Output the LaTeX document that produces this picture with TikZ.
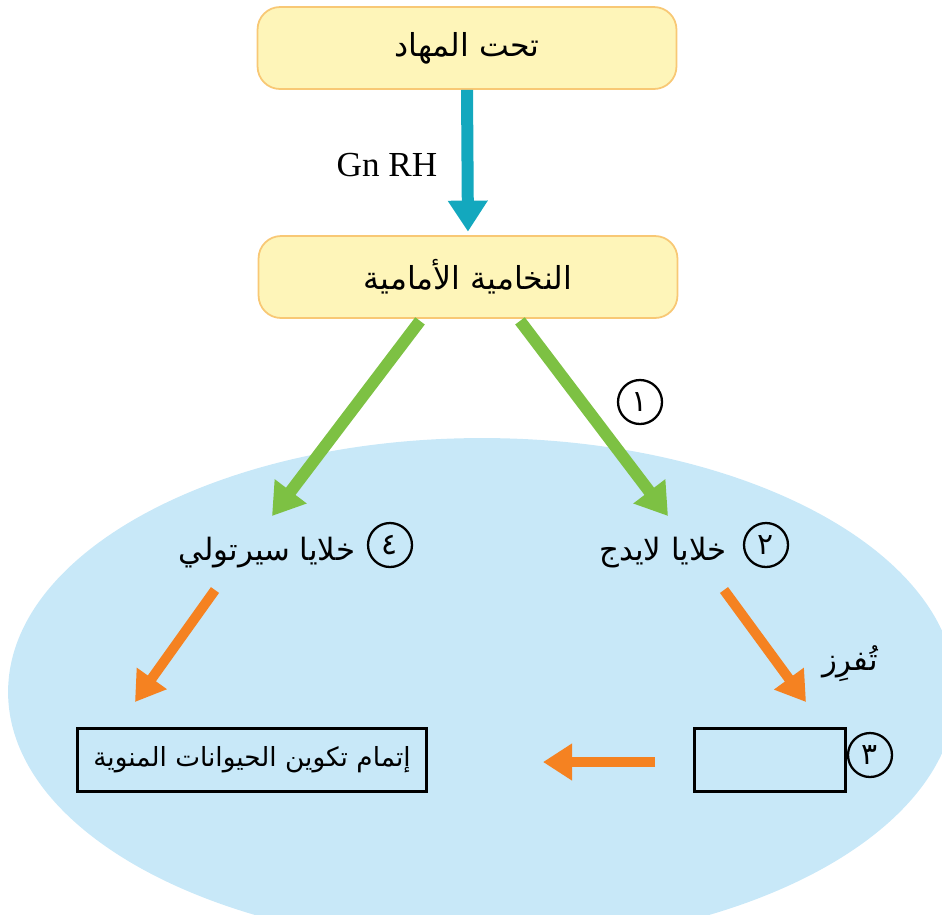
\documentclass[tikz,border=0pt]{standalone}
\usepackage{fontspec}
\setmainfont{Liberation Serif}
\newfontfamily\arabicfont[Script=Arabic]{DejaVu Sans}
\TeXXeTstate=1
\usepackage{tikz}
\usetikzlibrary{arrows.meta,shapes,calc,positioning}
\definecolor{padyellow}{HTML}{FEF5B9}
\definecolor{padline}{HTML}{F8C875}
\definecolor{sky}{HTML}{C8E8F8}
\definecolor{tealarr}{HTML}{13A8BE}
\definecolor{leafgreen}{HTML}{7DC143}
\definecolor{tangerine}{HTML}{F58221}
\tikzset{
  gland/.style={draw=padline,fill=padyellow,line width=1pt,rounded corners=0.45cm,minimum width=8.38cm,minimum height=1.64cm,font=\arabicfont\fontsize{18}{21}\selectfont},
  fat/.style={line width=0.24cm,-{Triangle[width=0.76cm,length=0.62cm]}},
  slim/.style={line width=0.2cm,-{Triangle[width=0.7cm,length=0.58cm]}},
  numring/.style={draw,circle,line width=1.3pt,minimum size=0.88cm,inner sep=0pt,font=\arabicfont\fontsize{17}{19}\selectfont},
  celltag/.style={font=\arabicfont\fontsize{17.5}{20}\selectfont,inner sep=1pt},
  framed/.style={draw,line width=1.8pt,minimum height=1.26cm,inner sep=2pt,font=\arabicfont\fontsize{15}{18}\selectfont}
}
\begin{document}
\begin{tikzpicture}[x=0.02cm,y=-0.02cm]
\useasboundingbox (0,0) rectangle (942,914);
\fill[sky] (482,692) ellipse [x radius=9.48cm,y radius=5.08cm];
\node[gland] (hyp) at (467,48) {\beginR تحت المهاد\endR};
\node[gland] (ant) at (468,277) {\beginR النخامية الأمامية\endR};
\node[font=\fontsize{20}{24}\selectfont] (gnrh) at (387,165) {Gn RH};
\draw[fat,tealarr,shorten >=2pt] (hyp.south) -- (ant.north);
\coordinate (sertip) at (272,516);
\coordinate (leytip) at (668,516);
\draw[fat,leafgreen] ($(ant.south)+(-48,2)$) -- (sertip);
\draw[fat,leafgreen] ($(ant.south)+(52,2)$) -- (leytip);
\node[numring] (one) at (640,402) {\arabicfont ١};
\node[celltag] (sertoli) at (267,553) {\beginR خلايا سيرتولي\endR};
\node[numring] (four) at (390,545) {\arabicfont ٤};
\node[celltag] (leydig) at (663,553) {\beginR خلايا لايدج\endR};
\node[numring] (two) at (766,545) {\arabicfont ٢};
\node[framed,minimum width=6.98cm] (sperm) at (252,760) {\beginR إتمام تكوين الحيوانات المنوية\endR};
\node[framed,minimum width=3.02cm] (blank) at (770,760) {};
\node[numring] (three) at (870,755) {\arabicfont ٣};
\node[celltag] (secrete) at (850,664) {\beginR تُفرِز\endR};
\coordinate (sstart) at (215,590);
\coordinate (stip) at (135,702);
\coordinate (lstart) at (724,590);
\coordinate (ltip) at (806,702);
\coordinate (hstart) at (655,762);
\coordinate (htip) at (543,762);
\draw[slim,tangerine] (sstart) -- (stip);
\draw[slim,tangerine] (lstart) -- (ltip);
\draw[slim,tangerine] (hstart) -- (htip);
\end{tikzpicture}
\end{document}
